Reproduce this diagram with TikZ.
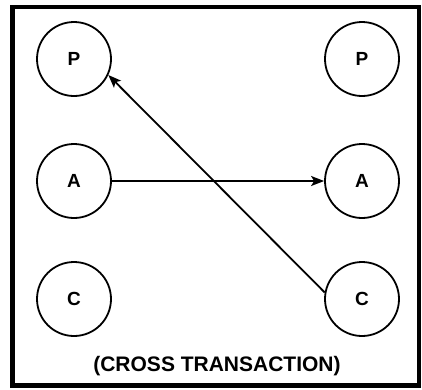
\documentclass[tikz,border=0pt]{standalone}
\usepackage{fontspec}
\setmainfont{Liberation Sans}
\usetikzlibrary{arrows.meta}
\begin{document}
\begin{tikzpicture}[x=1pt,y=-1pt,
  party/.style={circle,draw,line width=1.8pt,minimum size=74pt,inner sep=0pt,
    font=\fontsize{19}{19}\selectfont\bfseries},
  flow/.style={line width=1.8pt,-{Stealth[length=13pt,width=10pt,inset=3pt]}}]
  \useasboundingbox (0,0) rectangle (422,389);
  \fill[white] (0,0) rectangle (422,389);
  % outer frame
  \draw[line width=4.5pt] (12.5,7) rectangle (419,385.5);
  % parties, before and after
  \node[party] (pl) at (74,59) {P};
  \node[party] (pr) at (362,59) {P};
  \node[party] (al) at (74,181) {A};
  \node[party] (ar) at (362,181) {A};
  \node[party] (cl) at (74,299) {C};
  \node[party] (cr) at (362,299) {C};
  % transactions
  \draw[flow] (al.east) -- (ar.west);
  \draw[flow] (cr.170) -- (pl.-25);
  % caption
  \node[font=\fontsize{21}{21}\selectfont\bfseries] (cap) at (217,366) {(CROSS TRANSACTION)};
\end{tikzpicture}
\end{document}
